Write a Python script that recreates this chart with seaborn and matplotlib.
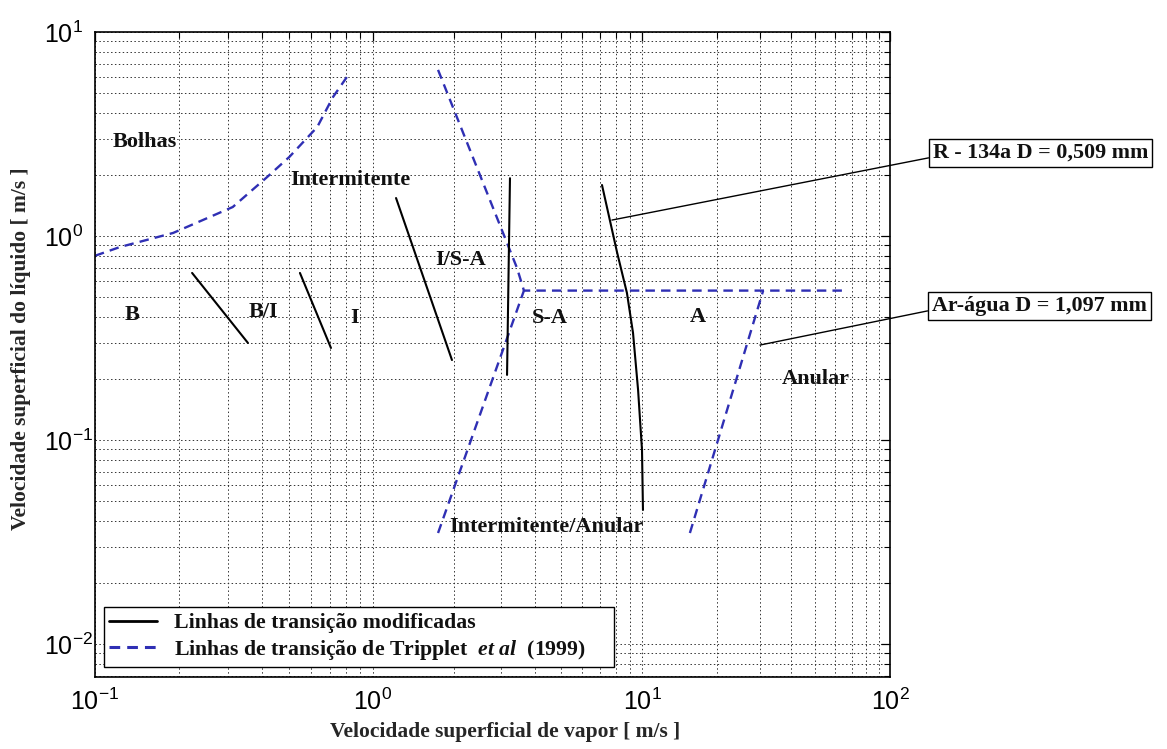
import numpy as np
import pandas as pd
import seaborn as sns
import matplotlib
matplotlib.use("Agg")
import matplotlib.pyplot as plt
from matplotlib.lines import Line2D
from matplotlib.font_manager import FontProperties
from matplotlib.ticker import FixedLocator, FixedFormatter, NullFormatter

# ---- flow-pattern map data (superficial velocities, m/s) ----
# Tripplet et al (1999) transition lines
bolhas_x = [0.100, 0.123, 0.191, 0.313, 0.416, 0.50, 0.63, 0.718, 0.805]
bolhas_y = [0.80, 0.883, 1.035, 1.387, 1.945, 2.44, 3.42, 4.80, 6.01]

trip_upper_x = [1.745, 3.43, 3.64, 66.0]
trip_upper_y = [6.52, 0.697, 0.54, 0.54]

trip_lower_x = [1.745, 3.64]
trip_lower_y = [0.035, 0.54]

trip_annular_x = [15.6, 30.8]
trip_annular_y = [0.035, 0.54]

# Modified transition lines
bi_x = [0.2235, 0.355]
bi_y = [0.659, 0.299]

i_x = [0.546, 0.706]
i_y = [0.659, 0.2826]

int_x = [1.218, 1.966]
int_y = [1.535, 0.2466]

isa_x = [3.23, 3.15]
isa_y = [1.92, 0.2085]

r134_x = [7.10, 8.07, 8.79, 9.26, 9.67, 10.0, 10.09]
r134_y = [1.778, 0.836, 0.526, 0.335, 0.176, 0.0893, 0.0454]

# Region labels
region_labels = ["Bolhas", "Intermitente", "I/S-A", "B", "B/I", "I", "S-A", "A",
                 "Anular", "Intermitente/Anular"]
region_x = [0.116, 0.502, 2.12, 0.136, 0.402, 0.861, 4.55, 16.8, 50.0, 4.43]
region_y = [2.89, 1.88, 0.762, 0.41, 0.424, 0.396, 0.396, 0.40, 0.199, 0.0375]
region_ha = ["left", "left", "center", "center", "center", "center", "center",
             "center", "center", "center"]

# Callout boxes
callout_text = ["R - 134a D = 0,509 mm", "Ar-água D = 1,097 mm"]
callout_xy = [(7.73, 1.197), (29.9, 0.292)]

legend_labels = ["Linhas de transição modificadas",
                 r"Linhas de transição de Tripplet $\mathit{\ et\ al\ }$ (1999)     "]

x_decades = [0.1, 1, 10, 100]
x_tick_labels = [r"$\mathdefault{10^{-1}}$", r"$\mathdefault{10^{0}}$",
                 r"$\mathdefault{10^{1}}$", r"$\mathdefault{10^{2}}$"]
y_decades = [0.01, 0.1, 1, 10]
y_tick_labels = [r"$\mathdefault{10^{-2}}$", r"$\mathdefault{10^{-1}}$",
                 r"$\mathdefault{10^{0}}$", r"$\mathdefault{10^{1}}$"]

sns.set_theme(style="white")
plt.rcParams["font.family"] = ["Liberation Sans", "DejaVu Sans"]
plt.rcParams["mathtext.fontset"] = "custom"
plt.rcParams["mathtext.it"] = "Liberation Serif:italic:bold"
plt.rcParams["mathtext.rm"] = "Liberation Serif:bold"

serif_bold = dict(family="Liberation Serif", weight="bold")
BLUE = "#2f2fb4"

# Log axis whose decades are stretched individually (decade widths 278/269/248)
_knots_t = np.array([-1.0, 0.0, 1.0, 2.0])
_knots_p = np.array([0.0, 278.0, 547.0, 795.0])


def _pw(v, xs, ys):
    v = np.asarray(v, dtype=float)
    out = np.interp(v, xs, ys)
    lo = v < xs[0]
    hi = v > xs[-1]
    out = np.where(lo, ys[0] + (v - xs[0]) * (ys[1] - ys[0]) / (xs[1] - xs[0]), out)
    out = np.where(hi, ys[-1] + (v - xs[-1]) * (ys[-1] - ys[-2]) / (xs[-1] - xs[-2]), out)
    return out


def xfwd(x):
    x = np.clip(np.asarray(x, dtype=float), 1e-300, None)
    return _pw(np.log10(x), _knots_t, _knots_p)


def xinv(p):
    return 10.0 ** _pw(p, _knots_p, _knots_t)


fig = plt.figure(figsize=(11.67, 7.49), dpi=100)
ax = fig.add_axes([95 / 1167, 1 - 677 / 749, 795 / 1167, 645 / 749])
ax.set_facecolor("white")

dash = (0, (4, 2.6))


def draw(xs, ys, color, ls, lw):
    df = pd.DataFrame({"x": xs, "y": ys})
    sns.lineplot(data=df, x="x", y="y", sort=False, estimator=None, ax=ax,
                 color=color, linestyle=ls, linewidth=lw, legend=False)


for xs, ys in [(bolhas_x, bolhas_y), (trip_upper_x, trip_upper_y),
               (trip_lower_x, trip_lower_y), (trip_annular_x, trip_annular_y)]:
    draw(xs, ys, BLUE, dash, 1.7)

for xs, ys in [(bi_x, bi_y), (i_x, i_y), (int_x, int_y), (isa_x, isa_y),
               (r134_x, r134_y)]:
    draw(xs, ys, "black", "-", 1.5)

ax.set_xscale("function", functions=(xfwd, xinv))
ax.set_yscale("log")
ax.set_xlim(0.1, 100)
ax.set_ylim(10 ** (-2 - 33 / 204), 10)

x_minor = [m * d for d in x_decades[:-1] for m in range(2, 10)]
ax.xaxis.set_major_locator(FixedLocator(x_decades))
ax.xaxis.set_major_formatter(FixedFormatter(x_tick_labels))
ax.xaxis.set_minor_locator(FixedLocator(x_minor))
ax.xaxis.set_minor_formatter(NullFormatter())
y_minor = [m * d for d in [0.001] + y_decades[:-1] for m in range(2, 10)]
ax.yaxis.set_major_locator(FixedLocator(y_decades))
ax.yaxis.set_major_formatter(FixedFormatter(y_tick_labels))
ax.yaxis.set_minor_locator(FixedLocator(y_minor))
ax.yaxis.set_minor_formatter(NullFormatter())

# MATLAB-like dotted grid on major and minor ticks
ax.grid(True, which="both", color="0.2", linestyle=(0, (1.5, 2.5)), linewidth=0.7)
ax.tick_params(which="both", direction="in", top=True, right=True, colors="black")
ax.tick_params(which="major", length=6.5, width=0.9, labelsize=18)
ax.tick_params(which="minor", length=4.3, width=0.8)
ax.tick_params(axis="x", which="major", pad=8)
ax.tick_params(axis="y", which="major", pad=37)
for tk in ax.yaxis.get_major_ticks():
    tk.label1.set_horizontalalignment("left")
for s in ax.spines.values():
    s.set_color("black")
    s.set_linewidth(1.2)

ax.set_xlabel("Velocidade superficial de vapor [ m/s ]", fontsize=15.5, **serif_bold)
ax.set_ylabel("Velocidade superficial do líquido [ m/s ]", fontsize=15.5, **serif_bold)
ax.xaxis.set_label_coords((505 - 95) / 795, -(722 - 677) / 645)
ax.yaxis.set_label_coords((31 - 95) / 795, (677 - 349) / 645)

for t, x, y, ha in zip(region_labels, region_x, region_y, region_ha):
    ax.text(x, y, t, ha=ha, va="center", fontsize=16, color="#111111", **serif_bold)

callout_pos = [(933, 749 - 153), (932, 749 - 306)]
for t, xy, pos in zip(callout_text, callout_xy, callout_pos):
    ax.annotate(t, xy=xy, xycoords="data", xytext=pos, textcoords="figure pixels",
                ha="left", va="center", fontsize=15.8, color="#111111",
                bbox=dict(boxstyle="square,pad=0.18", fc="white", ec="black", lw=1),
                arrowprops=dict(arrowstyle="-", color="black", lw=1,
                                shrinkA=0, shrinkB=0, relpos=(0, 0.3)),
                annotation_clip=False, **serif_bold)

handles = [Line2D([], [], color="black", lw=2),
           Line2D([], [], color=BLUE, lw=2.2, linestyle=(0, (3.5, 2.3)))]
leg = ax.legend(handles, legend_labels, loc="lower left",
                bbox_to_anchor=(9 / 795, 10 / 645), borderaxespad=0,
                prop=FontProperties(family="Liberation Serif", weight="bold", size=15.7),
                frameon=True, fancybox=False, framealpha=1, edgecolor="black",
                handlelength=2.2, borderpad=0.25, labelspacing=0.2, handletextpad=0.75)
leg.get_frame().set_linewidth(1.0)
for txt in leg.get_texts():
    txt.set_color("#111111")

fig.savefig("out.png", dpi=100, facecolor="white")
